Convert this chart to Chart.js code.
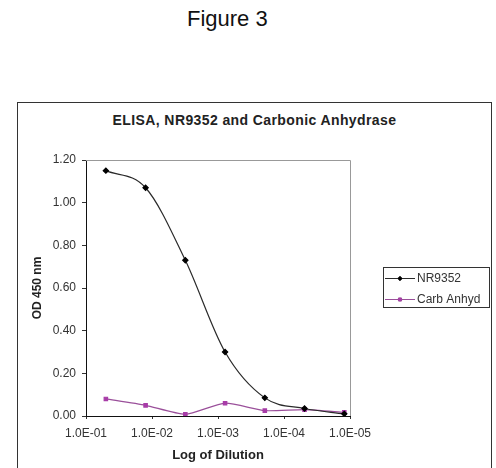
<!DOCTYPE html>
<html>
<head>
<meta charset="utf-8">
<script src="https://cdn.jsdelivr.net/npm/chart.js@4/dist/chart.umd.min.js"></script>
<style>
  html, body { margin: 0; padding: 0; background: #fff; }
  body { width: 496px; height: 468px; overflow: hidden; position: relative; font-family: "Liberation Sans", Arial, sans-serif; }
  #fig { position: absolute; left: 187px; top: 6px; font-size: 22px; color: #111; white-space: nowrap; }
  #box { position: absolute; left: 17px; top: 102px; width: 475px; height: 400px; box-sizing: border-box; border: 1px solid #333; }
  #ttl { position: absolute; left: 17px; top: 112px; width: 475px; text-align: center; font-size: 14px; line-height: 16px; font-weight: bold; letter-spacing: 0.4px; color: #222; }
  canvas { position: absolute; left: 0; top: 0; }
</style>
</head>
<body>
<div id="fig">Figure 3</div>
<div id="box"></div>
<div id="ttl">ELISA, NR9352 and Carbonic Anhydrase</div>
<canvas id="elisa" width="496" height="468"></canvas>
<script>
// dilutions 1:20 ... 1:81920 (fourfold steps)
var dilutions = [0.05, 0.0125, 0.003125, 0.00078125, 0.000195313, 0.0000488281, 0.0000122070];
var nr9352 = [1.15, 1.07, 0.73, 0.30, 0.085, 0.035, 0.01];
var carbAnhyd = [0.08, 0.05, 0.008, 0.06, 0.025, 0.03, 0.017];
var seriesNames = ['NR9352', 'Carb Anhyd'];
var xTicks = [1e-1, 1e-2, 1e-3, 1e-4, 1e-5];
var yTicks = [0, 0.2, 0.4, 0.6, 0.8, 1.0, 1.2];

var font = "'Liberation Sans', Arial, sans-serif";

var toPoints = function(ys){
  return dilutions.map(function(d, i){ return {x: d, y: ys[i]}; });
}

var expLabel = function(v){
  var e = Math.round(Math.log10(v));
  return '1.0E-' + String(-e).padStart(2, '0');
}

// gray top/right edges of the plot area
var plotFrame = {
  id: 'plotFrame',
  beforeDatasetsDraw: function(chart){
    var a = chart.chartArea, ctx = chart.ctx;
    ctx.save();
    ctx.strokeStyle = '#999';
    ctx.lineWidth = 1;
    ctx.beginPath();
    ctx.moveTo(a.left, a.top + 0.5);
    ctx.lineTo(a.right + 0.5, a.top + 0.5);
    ctx.lineTo(a.right + 0.5, a.bottom);
    ctx.stroke();
    ctx.restore();
  }
};

// excel style boxed legend to the right of the plot
var boxLegend = {
  id: 'boxLegend',
  afterDraw: function(chart){
    var a = chart.chartArea, ctx = chart.ctx;
    var sets = chart.data.datasets;
    var w = 106, rowH = 21, h = sets.length * rowH - 2;
    var x0 = a.right + 33;
    var y0 = Math.round((a.top + a.bottom) / 2 - h / 2) - 1;
    ctx.save();
    ctx.strokeStyle = '#333';
    ctx.lineWidth = 1;
    ctx.strokeRect(x0 + 0.5, y0 + 0.5, w, h);
    ctx.font = '12px ' + font;
    ctx.textBaseline = 'middle';
    sets.forEach(function(ds, i){
      var cy = y0 + 11 + i * rowH;
      ctx.strokeStyle = ds.borderColor;
      ctx.lineWidth = 1;
      ctx.beginPath();
      ctx.moveTo(x0 + 2, cy + 0.5);
      ctx.lineTo(x0 + 32, cy + 0.5);
      ctx.stroke();
      Chart.helpers.drawPoint(ctx, {pointStyle: ds.pointStyle, radius: 2.2, rotation: 0, borderWidth: 1}, x0 + 17, cy + 0.5);
      ctx.fillStyle = ds.pointBackgroundColor;
      ctx.fill();
      ctx.fillStyle = '#333';
      ctx.fillText(ds.label, x0 + 34, cy + 1);
    });
    ctx.restore();
  }
};

var ctx = document.getElementById('elisa');
var chart = new Chart(ctx, {
  type: 'line',
  data: {
    datasets: [{
      label: seriesNames[0],
      data: toPoints(nr9352),
      borderColor: '#2a2a2a',
      borderWidth: 1.2,
      pointStyle: 'rectRot',
      pointRadius: 2.6,
      pointBackgroundColor: '#000',
      pointBorderColor: '#000',
      cubicInterpolationMode: 'monotone'
    }, {
      label: seriesNames[1],
      data: toPoints(carbAnhyd),
      borderColor: '#9a4f9a',
      borderWidth: 1.2,
      pointStyle: 'rect',
      pointRadius: 2.4,
      pointBackgroundColor: '#a83ca8',
      pointBorderColor: '#a83ca8',
      tension: 0.2
    }]
  },
  options: {
    responsive: false,
    animation: false,
    devicePixelRatio: 1,
    layout: { padding: { left: 26, right: 146, top: 160, bottom: 0 } },
    plugins: {
      legend: { display: false },
      title: { display: false },
      tooltip: { enabled: false }
    },
    scales: {
      x: {
        type: 'logarithmic',
        reverse: true,
        min: 1e-5,
        max: 1e-1,
        afterBuildTicks: function(s){ s.ticks = xTicks.map(function(v){ return {value: v}; }); },
        afterFit: function(s){ s.height = 52; },
        grid: { display: true, drawOnChartArea: false, drawTicks: true, tickLength: 3, color: '#333' },
        border: { display: true, color: '#111', width: 1 },
        ticks: {
          autoSkip: false, maxRotation: 0, padding: 7, color: '#333',
          font: { family: font, size: 12 },
          callback: function(v){ return expLabel(v); }
        },
        title: {
          display: true, text: 'Log of Dilution', color: '#222',
          font: { family: font, size: 13, weight: 'bold' },
          padding: { top: 2, bottom: 5 }
        }
      },
      y: {
        min: 0,
        max: 1.2,
        afterBuildTicks: function(s){ s.ticks = yTicks.map(function(v){ return {value: v}; }); },
        afterFit: function(s){ s.width = 60; },
        grid: { display: true, drawOnChartArea: false, drawTicks: true, tickLength: 4, color: '#333' },
        border: { display: true, color: '#111', width: 1 },
        ticks: {
          padding: 6, color: '#333',
          font: { family: font, size: 12 },
          callback: function(v){ return v.toFixed(2); }
        },
        title: {
          display: true, text: 'OD 450 nm', color: '#222',
          font: { family: font, size: 12, weight: 'bold' },
          padding: { top: 4, bottom: 8 }
        }
      }
    }
  },
  plugins: [plotFrame, boxLegend]
});
</script>
</body>
</html>
